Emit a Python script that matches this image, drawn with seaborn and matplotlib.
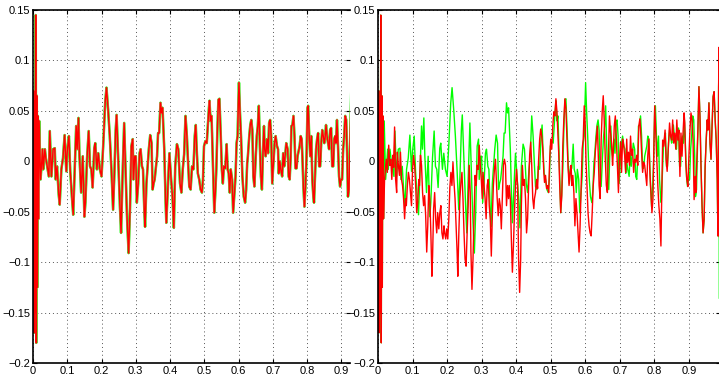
import matplotlib
matplotlib.use("Agg")
import matplotlib.pyplot as plt
import seaborn as sns
from matplotlib.ticker import FuncFormatter

# original signal (green)
t_orig = [0.000, 0.001, 0.002, 0.003, 0.005, 0.006, 0.008, 0.0095, 0.011, 0.0125, 0.014, 0.016, 0.018,
          0.0221, 0.0279, 0.0298, 0.0346, 0.0375, 0.0413, 0.0462, 0.049, 0.0538, 0.0587, 0.0635, 0.0663,
          0.0702, 0.075, 0.0779, 0.0827, 0.0875, 0.0923, 0.0971, 0.100, 0.1048, 0.1087, 0.1135, 0.1173,
          0.1221, 0.126, 0.1288, 0.1327, 0.1356, 0.1404, 0.1452, 0.150, 0.1529, 0.1577, 0.1625, 0.1663,
          0.1702, 0.174, 0.1788, 0.1817, 0.1865, 0.1904, 0.1952, 0.200, 0.2048, 0.2077, 0.2106, 0.2144,
          0.2192, 0.224, 0.2288, 0.2337, 0.2375, 0.2413,
          0.244, 0.248, 0.254, 0.257, 0.261, 0.266, 0.270, 0.273, 0.275, 0.279, 0.283, 0.287, 0.291, 0.293,
          0.297, 0.300, 0.303, 0.307, 0.311, 0.314, 0.318, 0.321, 0.325, 0.327, 0.331, 0.334, 0.338, 0.342,
          0.346, 0.349, 0.352, 0.355, 0.358, 0.362, 0.365, 0.368, 0.372, 0.375, 0.378, 0.383, 0.387, 0.389,
          0.393, 0.398, 0.403, 0.407, 0.411, 0.415, 0.420, 0.424, 0.426, 0.429, 0.433, 0.437, 0.441, 0.445,
          0.449, 0.453, 0.456, 0.460, 0.464, 0.468, 0.472, 0.475,
          0.477, 0.481, 0.485, 0.489, 0.493, 0.496, 0.499, 0.503, 0.507, 0.510, 0.513, 0.515, 0.518, 0.521,
          0.524, 0.526, 0.529, 0.532, 0.535, 0.538, 0.541, 0.544, 0.548, 0.551, 0.554, 0.557, 0.561, 0.565,
          0.568, 0.571, 0.574, 0.577, 0.581, 0.584, 0.587, 0.591, 0.594, 0.597, 0.599, 0.601, 0.604, 0.607,
          0.611, 0.615, 0.619, 0.622, 0.625, 0.627, 0.631, 0.634, 0.637, 0.640, 0.643, 0.646, 0.650, 0.653,
          0.656, 0.659, 0.662, 0.665, 0.668, 0.671, 0.674, 0.676, 0.679, 0.683, 0.686, 0.689, 0.692, 0.695,
          0.698, 0.701, 0.705,
          0.708, 0.712, 0.715, 0.717, 0.720, 0.723, 0.727, 0.730, 0.733, 0.736, 0.739, 0.743, 0.746, 0.749,
          0.752, 0.754, 0.757, 0.760, 0.763, 0.766, 0.769, 0.772, 0.775, 0.778, 0.781, 0.784, 0.786, 0.789,
          0.792, 0.795, 0.798, 0.801, 0.803, 0.806, 0.809, 0.812, 0.815, 0.818, 0.820, 0.823, 0.826, 0.829,
          0.832, 0.835, 0.838, 0.841, 0.844, 0.847, 0.850, 0.852, 0.855, 0.858, 0.861, 0.864, 0.867, 0.870,
          0.873, 0.876, 0.879, 0.882, 0.884, 0.887, 0.890, 0.893, 0.896, 0.899, 0.902, 0.905, 0.908, 0.911,
          0.914, 0.917, 0.919, 0.922,
          0.926, 0.929, 0.932, 0.935, 0.938, 0.941, 0.944, 0.947, 0.950, 0.953, 0.955, 0.958, 0.961, 0.964,
          0.967, 0.970, 0.973, 0.976, 0.979, 0.982, 0.984, 0.985, 0.986, 0.987, 0.988]
y_orig = [0.0, -0.12, 0.07, -0.17, 0.06, -0.15, 0.145, -0.18, 0.065, -0.125, 0.045, -0.057, 0.04,
          -0.018, 0.012, -0.008, 0.012, 0.003, -0.005, -0.015, 0.030, -0.015, 0.012, 0.013, -0.018,
          -0.005, -0.033, -0.043, -0.008, 0.003, 0.026, -0.010, 0.010, 0.025, -0.010, -0.035, -0.053,
          -0.003, 0.035, 0.012, 0.043, 0.005, -0.031, 0.005, -0.055, -0.041, 0.003, 0.030, -0.005,
          -0.008, -0.026, 0.013, 0.018, -0.008, 0.008, -0.008, -0.015, 0.015, 0.036, 0.058, 0.073,
          0.051, 0.025, -0.008, -0.048, -0.012, 0.031,
          0.046, 0.008, -0.048, -0.071, -0.018, 0.038, -0.008, -0.041, -0.061, -0.091, -0.048, 0.015, 0.022, -0.018,
          0.005, 0.005, -0.041, -0.022, 0.008, 0.012, -0.005, -0.008, -0.051, -0.065, -0.022, -0.008, 0.012, 0.026,
          0.018, -0.028, -0.022, -0.018, -0.008, 0.005, 0.028, 0.028, 0.058, 0.048, 0.053, 0.012, -0.041, -0.061,
          -0.031, 0.008, -0.018, -0.035, -0.066, -0.005, 0.017, 0.012, -0.002, -0.022, -0.031, -0.008, 0.007, 0.045,
          0.025, -0.005, -0.025, -0.028, -0.005, -0.008, 0.025, 0.036,
          0.017, -0.012, -0.018, -0.028, -0.031, -0.018, 0.015, 0.020, 0.018, 0.035, 0.051, 0.060, 0.040, 0.045,
          0.008, -0.015, -0.051, -0.031, -0.008, 0.031, 0.061, 0.062, 0.025, -0.008, -0.022, -0.005, -0.007, 0.017,
          -0.008, -0.012, -0.031, -0.008, -0.018, -0.051, -0.035, -0.015, 0.018, 0.025, 0.055, 0.078, 0.048, 0.025,
          -0.015, -0.035, -0.041, -0.028, -0.002, 0.005, 0.025, 0.036, 0.041, 0.031, -0.015, -0.025, 0.005, 0.025,
          0.035, 0.055, 0.015, -0.015, -0.028, 0.008, 0.035, 0.012, 0.005, 0.022, 0.008, 0.038, 0.041, 0.025,
          -0.022, -0.005, 0.018,
          0.025, 0.015, 0.012, -0.012, 0.0, -0.008, -0.015, 0.008, -0.005, 0.007, 0.018, 0.012, -0.015, -0.018,
          0.005, 0.035, 0.036, 0.045, 0.025, -0.007, -0.007, 0.005, 0.010, 0.015, 0.025, 0.022, 0.005, -0.025,
          -0.045, -0.025, 0.002, 0.053, 0.055, 0.025, 0.005, 0.025, -0.018, -0.035, -0.041, -0.015, 0.012, 0.022,
          0.028, -0.005, -0.005, 0.018, 0.031, 0.025, 0.018, 0.022, 0.036, 0.025, 0.018, 0.012, 0.031, 0.033,
          -0.005, -0.005, 0.022, 0.025, 0.018, 0.041, 0.015, -0.015, -0.025, -0.018, -0.018, 0.012, 0.025, 0.045,
          0.041, 0.002, -0.035, -0.028,
          0.031, 0.074, 0.044, -0.005, -0.044, -0.071, -0.058, -0.005, 0.021, 0.041, 0.031, 0.058, 0.018, 0.002,
          0.035, 0.064, 0.069, 0.041, 0.021, -0.018, -0.074, 0.008, 0.074, 0.09, -0.136]

# poor reconstruction (red, right panel)
t_bad = [0.000, 0.001, 0.002, 0.003, 0.005, 0.006, 0.008, 0.0095, 0.011, 0.0125, 0.014, 0.016,
         0.019, 0.024, 0.027, 0.031, 0.034, 0.037, 0.040, 0.043, 0.045, 0.048, 0.051, 0.054, 0.056, 0.059,
         0.062, 0.065, 0.068, 0.071, 0.074, 0.077, 0.080, 0.082, 0.085, 0.088, 0.091, 0.094, 0.097, 0.100,
         0.103, 0.106, 0.109, 0.112, 0.115, 0.118, 0.120, 0.123, 0.126, 0.129, 0.132, 0.135, 0.138, 0.141,
         0.144, 0.147, 0.150, 0.153, 0.156, 0.158, 0.161, 0.164, 0.167, 0.170, 0.173, 0.176, 0.179, 0.182,
         0.185, 0.188, 0.191, 0.193, 0.196, 0.199, 0.202, 0.205, 0.208, 0.211, 0.214, 0.217, 0.220, 0.223,
         0.226, 0.229, 0.231, 0.234, 0.237, 0.240, 0.243, 0.246, 0.249, 0.252, 0.255, 0.258, 0.261, 0.264,
         0.267, 0.269, 0.272, 0.275, 0.278, 0.281, 0.284, 0.287, 0.290, 0.293, 0.296, 0.299, 0.302, 0.304,
         0.307, 0.310, 0.313, 0.316, 0.319, 0.322, 0.325, 0.328, 0.331, 0.334, 0.337, 0.340, 0.342, 0.345,
         0.348, 0.351, 0.354, 0.357, 0.360, 0.363, 0.366, 0.369, 0.372, 0.375, 0.378, 0.380, 0.383, 0.386,
         0.389, 0.392, 0.395, 0.398, 0.401, 0.404, 0.407, 0.410, 0.413, 0.415, 0.418, 0.421, 0.424, 0.427,
         0.430, 0.433, 0.436, 0.439, 0.442, 0.445, 0.448, 0.451, 0.453,
         0.456, 0.459, 0.462, 0.465, 0.468, 0.471, 0.474, 0.477, 0.480, 0.482, 0.485, 0.488, 0.491, 0.494,
         0.497, 0.500, 0.503, 0.506, 0.509, 0.512, 0.515, 0.518, 0.520, 0.523, 0.526, 0.529, 0.532, 0.535,
         0.538, 0.541, 0.544, 0.547, 0.550, 0.553, 0.556, 0.559, 0.561, 0.564, 0.567, 0.570, 0.573, 0.576,
         0.579, 0.582, 0.585, 0.588, 0.591, 0.594, 0.597, 0.600, 0.602, 0.605, 0.608, 0.611, 0.614, 0.617,
         0.620, 0.623, 0.626, 0.629, 0.632, 0.635, 0.638, 0.640, 0.643, 0.646, 0.649, 0.652, 0.655, 0.658,
         0.661, 0.664, 0.667, 0.670, 0.673, 0.676, 0.679, 0.681, 0.684, 0.687, 0.690, 0.693, 0.696, 0.699,
         0.702, 0.705, 0.708, 0.711, 0.714, 0.717, 0.720, 0.722, 0.725, 0.728, 0.731, 0.734, 0.737, 0.740,
         0.743, 0.746, 0.749, 0.752, 0.755, 0.758, 0.760, 0.763, 0.766, 0.769, 0.772, 0.775, 0.778, 0.781,
         0.784, 0.787, 0.790, 0.793, 0.796, 0.799, 0.801, 0.804, 0.807, 0.810, 0.813, 0.816, 0.819,
         0.824, 0.827, 0.831, 0.834, 0.837, 0.841, 0.844, 0.847, 0.850, 0.853, 0.856, 0.859, 0.862, 0.865,
         0.868, 0.871, 0.874, 0.877, 0.880, 0.883, 0.886, 0.888, 0.891, 0.894, 0.897, 0.900, 0.903, 0.906,
         0.909, 0.912, 0.915, 0.918, 0.920, 0.923, 0.926, 0.929, 0.932, 0.935, 0.938, 0.941, 0.944, 0.947,
         0.950, 0.953, 0.955, 0.958, 0.961, 0.964, 0.967, 0.970, 0.973, 0.976, 0.979, 0.982, 0.984, 0.985,
         0.986, 0.987, 0.988]
y_bad = [0.0, -0.12, 0.07, -0.17, 0.06, -0.15, 0.145, -0.18, 0.065, -0.125, 0.045, -0.057,
         -0.018, 0.002, -0.011, 0.016, -0.004, 0.002, -0.018, 0.006, -0.006, 0.034, -0.018, -0.031, 0.009, -0.004,
         -0.014, 0.009, -0.018, -0.024, -0.037, -0.057, -0.037, -0.044, -0.024, -0.011, -0.018, -0.031, -0.044, -0.008,
         0.006, -0.004, -0.024, -0.051, -0.041, -0.018, -0.024, 0.006, -0.004, -0.031, -0.044, -0.034, -0.054, -0.090,
         -0.064, -0.024, -0.037, -0.071, -0.114, -0.094, -0.047, -0.031, -0.057, -0.071, -0.051, -0.067, -0.051, -0.044,
         -0.071, -0.077, -0.064, -0.071, -0.077, -0.067, -0.077, -0.057, -0.026, -0.011, -0.024, -0.001, -0.021, -0.037,
         -0.064, -0.090, -0.114, -0.071, -0.037, -0.021, -0.011, -0.037, -0.071, -0.097, -0.104, -0.071, -0.044, -0.004,
         -0.031, -0.090, -0.127, -0.097, -0.054, -0.014, -0.024, -0.004, -0.008, 0.016, -0.004, -0.018, -0.037, -0.011,
         -0.024, -0.037, -0.057, -0.024, -0.018, -0.044, -0.057, -0.094, -0.054, -0.024, -0.008, 0.002, -0.014, -0.037,
         -0.054, -0.037, -0.044, -0.067, -0.037, -0.004, 0.002, -0.004, -0.044, -0.024, -0.037, -0.024, -0.037, -0.077,
         -0.110, -0.084, -0.051, -0.024, -0.008, -0.024, -0.097, -0.130, -0.097, -0.044, -0.004, -0.024, -0.018, -0.037,
         -0.071, -0.057, -0.024, 0.006, 0.019, -0.004, -0.037, -0.047, -0.037,
         -0.031, -0.018, -0.027, 0.002, 0.022, 0.032, 0.025, 0.012, -0.011, -0.021, -0.014, -0.027, -0.024, -0.031,
         0.002, 0.022, 0.012, 0.035, 0.049, 0.045, 0.062, 0.049, 0.032, 0.009, -0.024, -0.051, -0.034, 0.016,
         0.042, 0.062, 0.052, 0.022, -0.004, -0.024, -0.011, -0.004, -0.024, -0.014, -0.031, -0.064, -0.037, -0.051,
         -0.071, -0.090, -0.064, -0.024, 0.012, 0.022, 0.055, 0.035, 0.002, -0.024, -0.051, -0.064, -0.071, -0.074,
         -0.051, -0.024, -0.011, 0.009, 0.022, 0.035, 0.002, -0.024, -0.037, 0.022, 0.049, 0.065, 0.039, 0.002,
         -0.024, -0.031, 0.006, 0.045, 0.029, 0.019, -0.004, 0.009, 0.035, 0.045, 0.022, -0.004, -0.031, 0.002,
         0.019, -0.011, 0.022, 0.016, 0.006, -0.011, 0.022, -0.001, 0.009, -0.004, 0.025, 0.006, 0.012, -0.011,
         0.002, -0.001, 0.006, -0.004, 0.035, 0.042, 0.032, 0.009, -0.011, -0.001, -0.004, -0.014, -0.024, 0.006,
         0.022, -0.011, -0.031, -0.051, -0.037, 0.022, 0.055, 0.029, 0.002, -0.024, -0.044, -0.057, -0.084,
         0.021, 0.015, 0.031, 0.002, -0.010, 0.018, 0.038, 0.025, 0.021, 0.041, 0.018, 0.028, 0.012, 0.041,
         0.021, 0.031, -0.015, 0.028, 0.005, 0.028, 0.048, 0.038, -0.002, -0.018, -0.025, 0.005, 0.031, 0.048,
         0.041, 0.021, -0.038, -0.015, -0.031, 0.002, 0.031, 0.074, 0.044, -0.005, -0.044, -0.071, -0.058, -0.005,
         0.021, 0.041, 0.031, 0.058, 0.018, 0.002, 0.035, 0.064, 0.069, 0.041, 0.021, -0.018, -0.074, 0.008,
         0.074, 0.113, -0.075]

x_ticks = [0, 0.1, 0.2, 0.3, 0.4, 0.5, 0.6, 0.7, 0.8, 0.9]
y_ticks = [-0.2, -0.15, -0.1, -0.05, 0, 0.05, 0.1, 0.15]

sns.set_style("white")
plt.rcParams['font.family'] = ['Liberation Sans', 'DejaVu Sans']

fig = plt.figure(figsize=(7.19, 3.76), dpi=100)
ax1 = fig.add_axes([33 / 719, 13 / 376, 317 / 719, 353 / 376])
ax2 = fig.add_axes([378 / 719, 13 / 376, 342 / 719, 353 / 376])

fmt = FuncFormatter(lambda v, p: ('%g' % round(v, 3)).replace('-', '\u2212'))

# left: good reconstruction lies on top of the original
sns.lineplot(x=t_orig, y=y_orig, ax=ax1, color="#00ff00", linewidth=1.8, sort=False, estimator=None)
sns.lineplot(x=t_orig, y=y_orig, ax=ax1, color="#c8955a", linewidth=1.5, sort=False, estimator=None)
sns.lineplot(x=t_orig, y=y_orig, ax=ax1, color="#ff0000", linewidth=1.0, sort=False, estimator=None)
ax1.set_xlim(0, 0.925)

# right: poor reconstruction
sns.lineplot(x=t_orig, y=y_orig, ax=ax2, color="#00ff00", linewidth=1.0, sort=False, estimator=None)
sns.lineplot(x=t_bad, y=y_bad, ax=ax2, color="#ff0000", linewidth=1.0, sort=False, estimator=None)
ax2.set_xlim(0, 0.99)

for ax in (ax1, ax2):
    ax.set_ylim(-0.2, 0.15)
    ax.set_xticks(x_ticks)
    ax.set_yticks(y_ticks)
    ax.xaxis.set_major_formatter(fmt)
    ax.yaxis.set_major_formatter(fmt)
    ax.grid(True, linestyle=(0, (1, 3)), color="#555555", linewidth=0.7)
    ax.tick_params(direction="in", length=3, labelsize=8, pad=2, colors="black",
                   top=True, right=True, bottom=True, left=True)
    for s in ax.spines.values():
        s.set_color("black")
        s.set_linewidth(1.2)
    ax.set_xlabel("")
    ax.set_ylabel("")

ax1.spines["right"].set_visible(False)

fig.savefig("out.png", dpi=100)
